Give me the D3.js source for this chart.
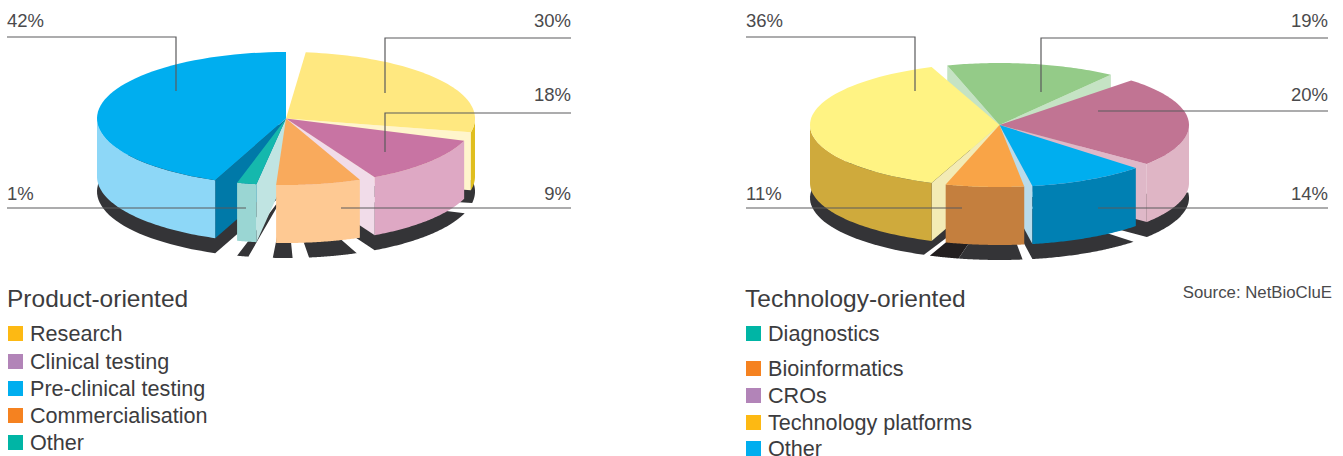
<!DOCTYPE html>
<html>
<head>
<meta charset="utf-8">
<script src="https://cdnjs.cloudflare.com/ajax/libs/d3/7.8.5/d3.min.js"></script>
<style>
html,body{margin:0;padding:0;background:#fff;overflow:hidden}
svg{display:block}
text{font-family:"Liberation Sans",Arial,sans-serif;fill:#3c3c3e}
</style>
</head>
<body>
<svg id="c" width="1343" height="456"></svg>
<script>
// ---- data ----
const productCategories = ["Research","Clinical testing","Pre-clinical testing","Commercialisation","Other"];
const productValues     = [30,18,42,9,1];
const technologyCategories = ["Diagnostics","Bioinformatics","CROs","Technology platforms","Other"];
const technologyValues     = [19,11,20,36,14];
const sourceNote = "Source: NetBioCluE";

// ---- styles ----
const legendColors = {
  product:["#fdb913","#b284b8","#00aeef","#f58220","#00b5a5"],
  technology:["#00b5a5","#f58220","#b284b8","#fdb913","#00aeef"]
};
const shadowColor = "#343437", shadowDark = "#231f20", leaderColor = "#5a5a5c";

// ---- layout: clockwise slice order, drawn sector boundaries (degrees from the top,
//      the artwork's perspective widens some slices), gap half-widths, painter order ----
const charts = [
 { title:"Product-oriented", titleX:7, cats:productCategories, vals:productValues, legend:legendColors.product,
   cx:286, cy:118.5, rx:189, ry:66.5, depth:58, shadowZ:73,
   order:[0,1,3,4,2],
   warp:[3,105.75,154.5,186,198.5,363],
   gaps:[3,3.75,2.5,3,3.5,3],
   paint:[0,4,1,3,2],           // indices in clockwise order
   styles:[
    {top:"#ffe880",wall:"#e0be1e",cut:"#fff5cc",cutEdge:["end"]},
    {top:"#c874a3",wall:"#dea8c4",cut:"#f1dce9",cutEdge:["end"]},
    {top:"#f9aa5c",wall:"#fec993",cut:"#fec993",cutEdge:[]},
    {top:"#15b8ad",wall:"#9ad6d3",cut:"#c0e4e2",cutEdge:["start"]},
    {top:"#00aeef",wall:"#8dd7f7",cut:"#0079a8",cutEdge:["start"]}],
   shadows:[[202,360,shadowColor],[191.5,195,shadowColor],[178,184,shadowColor],[158,173,shadowColor],[109,152,shadowColor],[80,100,shadowColor]],
   legendX:8, legendText:30, legendBase:[341,369,396,423,450], titleBase:307,
   leaders:[
    {v:2,side:"left", x0:7,  y:37,  x1:176, y1:91,  tx:7,  ty:27},
    {v:0,side:"right",x0:571,y:38,  x1:385, y1:93,  tx:571,ty:27},
    {v:1,side:"right",x0:571,y:113, x1:385, y1:152, tx:571,ty:101},
    {v:4,side:"left", x0:7,  y:208, x1:246, y1:208, tx:7,  ty:200},
    {v:3,side:"right",x0:571,y:208, x1:341, y1:208, tx:571,ty:200}]
 },
 { title:"Technology-oriented", titleX:745, cats:technologyCategories, vals:technologyValues, legend:legendColors.technology,
   cx:999.5, cy:125, rx:189.5, ry:62, depth:58, shadowZ:73,
   order:[0,2,4,1,3],
   warp:[-18.5,40,131.5,171.25,198.75,341.5],
   gaps:[2.5,4,2.5,1.25,2.25,2.5],
   paint:[0,1,4,2,3],
   styles:[
    {top:"#94cb88",wall:"#c5e3c4",cut:"#c5e3c4",cutEdge:["start","end"]},
    {top:"#c17493",wall:"#dfb5c5",cut:"#dfb8c8",cutEdge:["end"]},
    {top:"#00aeef",wall:"#0080b3",cut:"#b9dbeb",cutEdge:["end"]},
    {top:"#f9a447",wall:"#c47f3e",cut:"#c47f3e",cutEdge:[]},
    {top:"#fff383",wall:"#cfaa3c",cut:"#f3ebb5",cutEdge:["start"]}],
   shadows:[[203.5,360,shadowColor],[192.5,201.6,shadowDark],[173,192.5,shadowColor],[135,170,shadowColor],[85,129,shadowColor]],
   legendX:746, legendText:768, legendBase:[341,376,403,430,456], titleBase:307,
   leaders:[
    {v:3,side:"left", x0:746, y:37,  x1:915, y1:91,  tx:746, ty:27},
    {v:0,side:"right",x0:1328,y:38,  x1:1041,y1:92,  tx:1328,ty:27},
    {v:2,side:"right",x0:1328,y:111, x1:1098,y1:111, tx:1328,ty:101},
    {v:1,side:"left", x0:746, y:208, x1:962, y1:208, tx:746, ty:200},
    {v:4,side:"right",x0:1328,y:208, x1:1098,y1:208, tx:1328,ty:200}]
 }
];

const svg = d3.select("#c");
const line = d3.line();
const rad = d => d*Math.PI/180;

charts.forEach(ch => {
  const g = svg.append("g");
  const pt = (deg,z=0) => [ch.cx + ch.rx*Math.sin(rad(deg)), ch.cy - ch.ry*Math.cos(rad(deg)) + z];
  const apex = (z=0) => [ch.cx, ch.cy + z];
  const arcPts = (a,b,z=0) => d3.range(0,61).map(i => pt(a+(b-a)*i/60, z));
  const polygon = pts => line(pts) + "Z";

  // true proportions from d3.pie, mapped through the artwork's perspective
  const pieData = d3.pie().sort(null).value(i => ch.vals[i]).startAngle(0).endAngle(2*Math.PI)(ch.order);
  const bounds = pieData.map(d => d.startAngle).concat(2*Math.PI);
  const warp = d3.scaleLinear().domain(bounds).range(ch.warp);
  const slices = pieData.map((d,k) => ({
    start: warp(d.startAngle) + ch.gaps[k],
    end:   warp(d.endAngle) - ch.gaps[k+1],
    style: ch.styles[k]
  }));

  // shadow wedges
  g.append("g").selectAll("path").data(ch.shadows).join("path")
    .attr("d", s => polygon([apex(ch.shadowZ), ...arcPts(s[0],s[1],ch.shadowZ)]))
    .attr("fill", s => s[2]);

  // slices, back to front
  ch.paint.forEach(k => {
    const s = slices[k], st = s.style, sg = g.append("g");
    // visible part of the outer wall
    const a = Math.max(s.start,90), b = Math.min(s.end,270);
    const cuts = st.cutEdge.map(e => e==="start" ? s.start : s.end);
    sg.selectAll("path.cut").data(cuts).join("path").attr("class","cut")
      .attr("d", t => polygon([pt(t), apex(), apex(ch.depth), pt(t,ch.depth)]))
      .attr("fill", st.cut);
    if (b > a) {
      sg.append("path")
        .attr("d", polygon([...arcPts(a,b), ...arcPts(a,b,ch.depth).reverse()]))
        .attr("fill", st.wall);
    }
    sg.append("path")
      .attr("d", polygon([apex(), ...arcPts(s.start,s.end)]))
      .attr("fill", st.top);
  });

  // leaders and percentages
  const lg = g.append("g");
  lg.selectAll("path").data(ch.leaders).join("path")
    .attr("d", l => line(l.y===l.y1 ? [[l.x0,l.y],[l.x1,l.y1]] : [[l.x0,l.y],[l.x1,l.y],[l.x1,l.y1]]))
    .attr("fill","none").attr("stroke",leaderColor).attr("stroke-width",1.2);
  lg.selectAll("text").data(ch.leaders).join("text")
    .attr("x", l => l.tx).attr("y", l => l.ty)
    .attr("text-anchor", l => l.side==="left" ? "start" : "end")
    .attr("font-size",18.5).style("fill","#4a4a4c")
    .text(l => ch.vals[l.v] + "%");

  // title and legend
  g.append("text").attr("x",ch.titleX).attr("y",ch.titleBase).attr("font-size",24.5).text(ch.title);
  const rows = g.append("g").selectAll("g").data(ch.cats).join("g");
  rows.append("rect")
    .attr("x",ch.legendX).attr("y",(d,i)=>ch.legendBase[i]-15)
    .attr("width",15).attr("height",15)
    .attr("fill",(d,i)=>ch.legend[i]);
  rows.append("text")
    .attr("x",ch.legendText).attr("y",(d,i)=>ch.legendBase[i]-(ch.legendBase[i]>452?0.5:0))
    .attr("font-size",21.6).text(d=>d);
});

svg.append("text").attr("x",1332).attr("y",298).attr("text-anchor","end")
  .attr("font-size",16.8).style("fill","#4a4a4c").text(sourceNote);
</script>
</body>
</html>
